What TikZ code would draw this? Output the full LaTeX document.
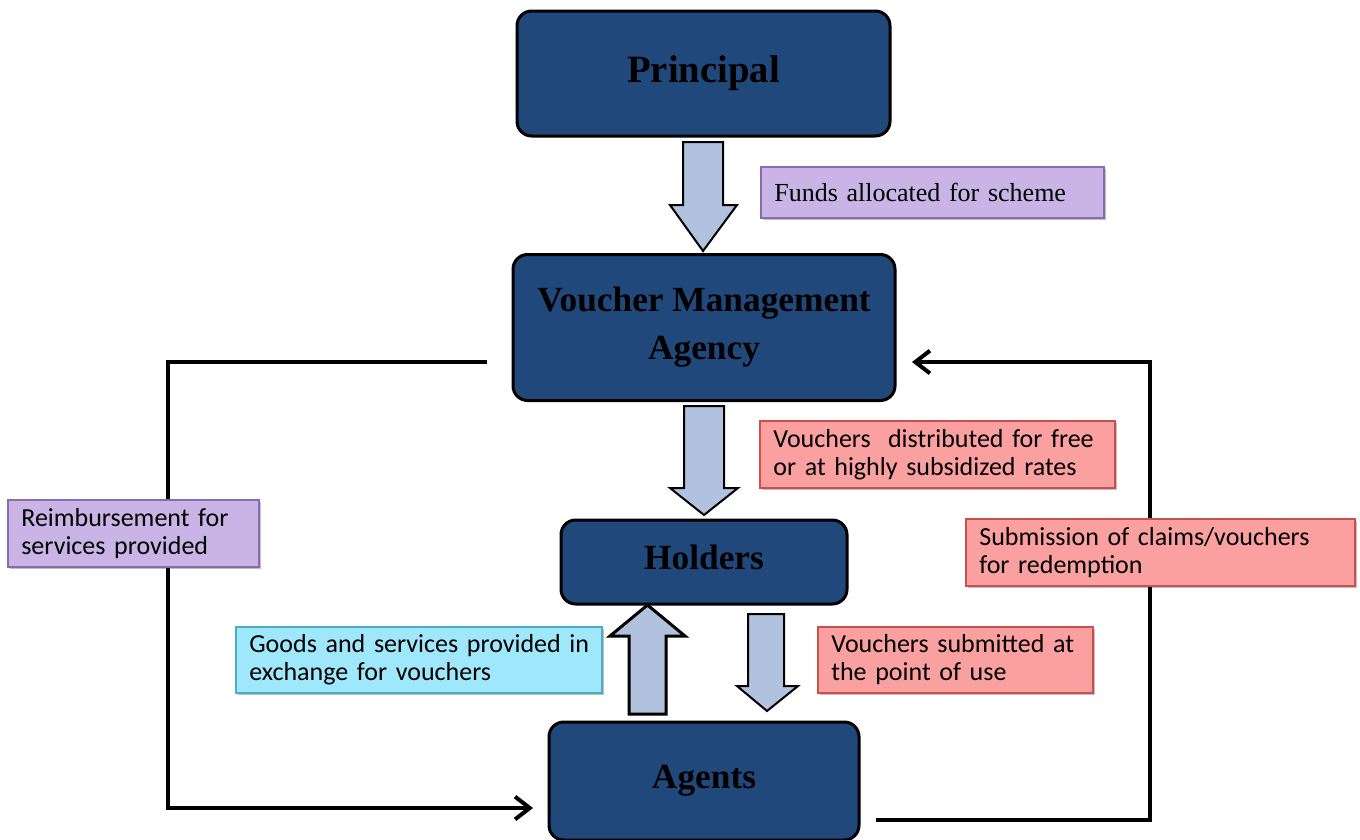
\documentclass[tikz,border=0pt]{standalone}
\usepackage{fontspec}
\setmainfont{Liberation Serif}
\newfontfamily\calibrifont{Carlito}
\usetikzlibrary{arrows.meta,shadows}
\definecolor{boxblue}{HTML}{21487A}
\definecolor{lav}{HTML}{CAB4E6}
\definecolor{lavline}{HTML}{8B6BB0}
\definecolor{salmon}{HTML}{FBA0A0}
\definecolor{salmonline}{HTML}{C9504D}
\definecolor{cyanfill}{HTML}{9FE7FB}
\definecolor{cyanline}{HTML}{4BACC6}
\definecolor{arrowfill}{HTML}{B1C2DE}
\begin{document}
\begin{tikzpicture}[x=0.75pt,y=-0.75pt,
  mainbox/.style={draw=black, line width=2.25pt, fill=boxblue, rounded corners=11pt,
    font=\bfseries\fontsize{26.5}{36}\selectfont, align=center, text=black, inner sep=0pt},
  lbl/.style={draw, line width=1.1pt, inner xsep=10pt, inner ysep=0pt, align=left,
    font=\calibrifont\fontsize{19.5}{21}\selectfont,
    drop shadow={shadow xshift=1.2pt,shadow yshift=-1.5pt,opacity=0.25,fill=black}},
  lavlbl/.style={lbl, fill=lav, draw=lavline},
  redlbl/.style={lbl, fill=salmon, draw=salmonline},
  cyanlbl/.style={lbl, fill=cyanfill, draw=cyanline},
  blockarrow/.style={draw=black, line width=1.5pt, fill=arrowfill, line join=miter},
  conn/.style={draw=black, line width=3pt, -{Straight Barb[length=11pt,width=17pt]}}
]
\useasboundingbox (0,0) rectangle (1360,839);

% main boxes
\node[mainbox, minimum width=279.75pt, minimum height=93.75pt, font=\bfseries\fontsize{29}{34}\selectfont] (principal) at (703.5,73.5) {Principal};
\node[mainbox, minimum width=286.5pt, minimum height=109.5pt] (vma) at (704,327.5) {Voucher Management\\Agency};
\node[mainbox, minimum width=214.5pt, minimum height=63pt, text depth=7pt] (holders) at (704,562) {Holders};
\node[mainbox, minimum width=232.5pt, minimum height=88.5pt] (agents) at (704,781) {Agents};

% connectors (drawn under the labels)
\coordinate (l0) at (487,362);
\coordinate (l1) at (168,808);
\coordinate (l2) at (533,808);
\coordinate (r0) at (876,820);
\coordinate (r1) at (1150,362);
\coordinate (r2) at (912,362);
\draw[conn] (l0) -| (l1) -- (l2);
\draw[conn] (r0) -| (r1) -- (r2);

% labels
\node[lavlbl, text width=237.25pt, minimum height=38.25pt, font=\fontsize{19.5}{21}\selectfont] (funds) at (932.5,192.5) {\mbox{Funds allocated for scheme}};
\node[redlbl, text width=246.25pt, minimum height=50.25pt] (vdist) at (937.5,454.5) {\mbox{Vouchers\ \ distributed for free}\\\mbox{or at highly subsidized rates}};
\node[lavlbl, text width=168.25pt, minimum height=50.25pt] (reimb) at (133.5,533.5) {\mbox{Reimbursement for}\\\mbox{services provided}};
\node[redlbl, text width=271.75pt, minimum height=50.25pt] (subm) at (1160.5,552.5) {\mbox{Submission of claims/vouchers}\\\mbox{for redemption}};
\node[cyanlbl, text width=254.5pt, minimum height=49.5pt] (goods) at (419,660) {\mbox{Goods and services provided in}\\\mbox{exchange for vouchers}};
\node[redlbl, text width=186.25pt, minimum height=49.5pt] (vsub) at (955.5,660) {\mbox{Vouchers submitted at}\\\mbox{the point of use}};

% block arrows
\draw[blockarrow] (683,142) -- (723,142) -- (723,205) -- (737,205) -- (703,251) -- (670,205) -- (683,205) -- cycle;
\draw[blockarrow] (684,406) -- (724,406) -- (724,488) -- (738,488) -- (704,515) -- (670,488) -- (684,488) -- cycle;
\draw[blockarrow, line width=2.25pt] (629,714) -- (666,714) -- (666,636) -- (685,636) -- (647.5,605) -- (610,636) -- (629,636) -- cycle;
\draw[blockarrow] (748,614) -- (784,614) -- (784,686) -- (798,686) -- (767,711) -- (737,686) -- (748,686) -- cycle;
\end{tikzpicture}
\end{document}
